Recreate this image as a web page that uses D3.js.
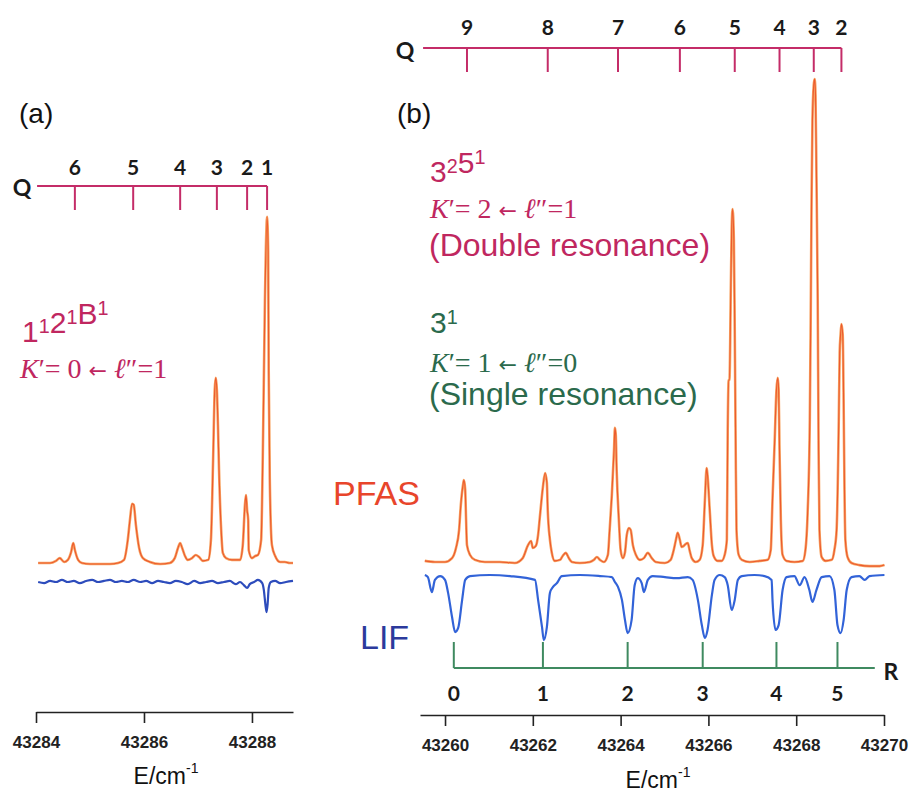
<!DOCTYPE html>
<html>
<head>
<meta charset="utf-8">
<script src="https://cdn.jsdelivr.net/npm/d3@7"></script>
<style>
  body { margin: 0; background: #fff; }
  svg { display: block; }
  .axis path, .axis line { stroke: #222; stroke-width: 1.6; }
</style>
</head>
<body>
<div id="chart"></div>
<script>
// ---- panel (a) : PFAS trace (energy in cm-1, intensity arb. units) ----
var pfasA_E = [43284.04, 43284.26, 43284.37, 43284.44, 43284.52, 43284.59, 43284.65, 43284.69, 43284.72, 43284.78,
  43284.85, 43285.00, 43285.19, 43285.37, 43285.52, 43285.63, 43285.70, 43285.74, 43285.78, 43285.81,
  43285.85, 43285.91, 43285.98, 43286.11, 43286.30, 43286.48, 43286.57, 43286.63, 43286.67, 43286.70,
  43286.76, 43286.81, 43286.89, 43286.96, 43287.02, 43287.09, 43287.19, 43287.24, 43287.28, 43287.31,
  43287.33, 43287.35, 43287.37, 43287.39, 43287.43, 43287.46, 43287.52, 43287.63, 43287.78, 43287.83,
  43287.87, 43287.89, 43287.91, 43287.93, 43287.94, 43288.00, 43288.06, 43288.11, 43288.17, 43288.20,
  43288.24, 43288.28, 43288.30, 43288.31, 43288.33, 43288.37, 43288.43, 43288.52, 43288.61, 43288.70, 43288.76];
var pfasA_I = [0, 0, 0.6, 1.4, 0.3, 0.9, 3.1, 5.7, 3.7, 0.9,
  0, -0.3, -0.3, -0.3, 0, 0.9, 6.6, 12.3, 16.9, 16.6,
  10.9, 4.3, 1.4, 0.3, -0.3, 0, 1.4, 4.3, 5.7, 4.6,
  2.0, 0.9, 1.4, 2.3, 1.7, 0.6, 0.9, 6.6, 29.4, 49.4,
  52.9, 49.4, 39.4, 26.6, 9.4, 2.9, 1.4, 0.9, 0.9, 5.1,
  16.6, 19.4, 15.1, 12.3, 3.7, 1.4, 2.0, 2.3, 6.6, 30.0,
  75.0, 98.9, 89.0, 55.0, 24.0, 5.1, 2.0, 0.3, 0.3, 0, 0];

// ---- panel (a) : LIF trace ----
var lifA_E = [43284.04, 43284.15, 43284.26, 43284.37, 43284.48, 43284.59, 43284.70, 43284.81, 43284.93, 43285.04,
  43285.15, 43285.26, 43285.37, 43285.48, 43285.59, 43285.70, 43285.81, 43285.93, 43286.04, 43286.15,
  43286.26, 43286.37, 43286.48, 43286.59, 43286.70, 43286.81, 43286.93, 43287.04, 43287.15, 43287.26,
  43287.37, 43287.48, 43287.59, 43287.70, 43287.78, 43287.85, 43287.91, 43287.96, 43288.04, 43288.11,
  43288.19, 43288.22, 43288.25, 43288.27, 43288.29, 43288.31, 43288.35, 43288.43, 43288.52, 43288.63, 43288.76];
var lifA_I = [0, -0.3, 0.3, 0, 0.6, 0, 0.3, -0.3, 0.3, 0.6,
  0, 0.3, 0.6, 0, 0.3, 0, 0.6, 0, 0.3, -0.3,
  0.3, 0, -0.3, 0.3, 0, -0.6, 0.3, -0.3, 0, 0.3,
  -0.3, 0, 0.3, -0.6, 0, -0.9, -1.7, -0.6, 0, 0.6,
  -0.3, -2.3, -6.6, -8.6, -6.3, -1.7, 0, 0.3, -0.3, 0, 0.3];

// ---- panel (b) : PFAS trace ----
var pfasB_E = [43259.54, 43259.77, 43260.00, 43260.16, 43260.25, 43260.32, 43260.36, 43260.41, 43260.43, 43260.46,
  43260.48, 43260.50, 43260.57, 43260.68, 43260.91, 43261.25, 43261.59, 43261.77, 43261.89, 43261.96,
  43262.00, 43262.07, 43262.12, 43262.16, 43262.23, 43262.28, 43262.32, 43262.34, 43262.39, 43262.43,
  43262.50, 43262.62, 43262.68, 43262.75, 43262.82, 43262.89, 43263.07, 43263.30, 43263.39, 43263.46,
  43263.53, 43263.62, 43263.71, 43263.75, 43263.80, 43263.85, 43263.87, 43263.89, 43263.91, 43263.96,
  43264.00, 43264.05, 43264.10, 43264.14, 43264.19, 43264.23, 43264.28, 43264.35, 43264.44, 43264.53,
  43264.62, 43264.71, 43264.80, 43265.01, 43265.14, 43265.21, 43265.26, 43265.30, 43265.35, 43265.39,
  43265.44, 43265.48, 43265.53, 43265.57, 43265.62, 43265.71, 43265.80, 43265.87, 43265.92, 43265.96,
  43265.98, 43266.03, 43266.08, 43266.12, 43266.21, 43266.30, 43266.37, 43266.42, 43266.44, 43266.46,
  43266.48, 43266.51, 43266.53, 43266.55, 43266.58, 43266.60, 43266.62, 43266.64, 43266.69, 43266.76,
  43266.94, 43267.17, 43267.35, 43267.42, 43267.46, 43267.51, 43267.55, 43267.58, 43267.60, 43267.62,
  43267.65, 43267.69, 43267.78, 43267.96, 43268.15, 43268.21, 43268.26, 43268.31, 43268.33, 43268.35,
  43268.37, 43268.40, 43268.42, 43268.44, 43268.46, 43268.49, 43268.51, 43268.53, 43268.58, 43268.67,
  43268.81, 43268.87, 43268.92, 43268.97, 43268.99, 43269.01, 43269.03, 43269.06, 43269.08, 43269.10,
  43269.12, 43269.17, 43269.26, 43269.44, 43269.67, 43269.90, 43270.01];
var pfasB_I = [0.6, 0.3, 0.3, 1.4, 4.3, 9.4, 16.6, 22.3, 23.7, 20.9,
  12.3, 5.1, 2.3, 0.9, 0.3, 0.3, 0, 1.4, 5.1, 6.3,
  4.3, 4.9, 8.0, 13.1, 21.7, 25.7, 22.9, 15.1, 6.6, 3.1,
  0.6, 0.9, 2.0, 2.9, 1.4, 0.3, 0, 0.3, 0.9, 1.7,
  0.9, 0.3, 2.3, 9.4, 19.4, 32.3, 38.6, 36.6, 26.6, 12.3,
  3.7, 1.4, 3.1, 8.0, 10.0, 9.4, 5.1, 2.3, 0.9, 1.4,
  2.9, 1.4, 0.3, 0, 0.9, 3.7, 6.6, 8.6, 6.6, 4.6,
  4.9, 5.4, 5.7, 3.7, 1.4, 0.3, 0.9, 5.1, 18.0, 27.1,
  25.1, 15.1, 5.1, 2.0, 0.6, 0.6, 2.3, 6.6, 38.0, 52.3,
  52.3, 78.0, 95.1, 101.1, 92.3, 66.6, 35.1, 9.4, 2.3, 0.9,
  0.3, 0.6, 0.9, 3.7, 18.0, 35.1, 49.4, 52.9, 49.4, 32.3,
  12.3, 2.3, 0.6, 0.3, 0.6, 3.7, 14.3, 40.9, 69.4, 103.7,
  126.6, 136.6, 138.3, 133.7, 112.3, 75.1, 32.3, 9.4, 1.7, 0.6,
  0.9, 3.7, 9.4, 40.9, 60.0, 65.1, 68.3, 65.1, 46.6, 20.9,
  6.6, 1.7, 0, -0.6, -0.9, -0.9, -0.6];

// ---- panel (b) : LIF trace ----
var lifB_E = [43259.54, 43259.61, 43259.70, 43259.77, 43259.89, 43260.00, 43260.07, 43260.16, 43260.23, 43260.30,
  43260.39, 43260.46, 43260.57, 43261.02, 43261.48, 43262.05, 43262.12, 43262.21, 43262.25, 43262.32,
  43262.39, 43262.46, 43262.55, 43262.66, 43263.07, 43263.53, 43263.80, 43263.87, 43263.94, 43264.03,
  43264.10, 43264.16, 43264.25, 43264.32, 43264.39, 43264.48, 43264.53, 43264.62, 43264.73, 43265.01,
  43265.28, 43265.53, 43265.64, 43265.76, 43265.85, 43265.92, 43265.98, 43266.08, 43266.14, 43266.26,
  43266.37, 43266.44, 43266.53, 43266.60, 43266.67, 43266.76, 43267.05, 43267.28, 43267.44, 43267.46,
  43267.53, 43267.60, 43267.69, 43267.78, 43267.96, 43268.08, 43268.19, 43268.30, 43268.37, 43268.46,
  43268.58, 43268.76, 43268.87, 43268.94, 43269.01, 43269.08, 43269.15, 43269.26, 43269.44, 43269.56,
  43269.67, 43270.01];
var lifB_I = [0, -0.6, -4.9, -1.4, -0.3, -1.4, -5.1, -12.0, -16.3, -15.1,
  -7.1, -1.4, -0.3, 0, -0.3, -1.4, -7.1, -14.9, -18.6, -14.9,
  -5.1, -3.4, -2.3, -0.3, 0, -0.3, -0.6, -2.0, -3.4, -7.1,
  -12.9, -16.6, -12.9, -2.9, -0.9, -2.3, -4.9, -1.4, -0.3, -0.6,
  -0.9, -0.6, -1.4, -7.1, -14.3, -18.0, -15.7, -5.7, -1.4, 0,
  -0.6, -2.9, -10.0, -7.1, -1.4, -0.3, 0, -0.3, -1.4, -7.1,
  -15.7, -14.3, -4.3, -0.6, -0.3, -2.9, -0.6, -4.3, -7.7, -4.3,
  -0.6, -0.3, -4.3, -14.3, -16.6, -12.9, -4.3, -0.6, -0.3, -1.4,
  -0.3, 0];

// ---- assignment ladders ----
var qLabelsA = ["6", "5", "4", "3", "2", "1"];
var qPosA = [43284.72, 43285.80, 43286.67, 43287.35, 43287.91, 43288.28];
var qStartA = 43284.02;

var qLabelsB = ["9", "8", "7", "6", "5", "4", "3", "2"];
var qPosB = [43260.50, 43262.34, 43263.94, 43265.35, 43266.60, 43267.62, 43268.40, 43269.03];
var qStartB = 43259.50;

var rLabelsB = ["0", "1", "2", "3", "4", "5"];
var rPosB = [43260.20, 43262.23, 43264.16, 43265.87, 43267.55, 43268.94];
var rEndB = 43269.79;

// ---- axis ticks ----
var ticksA = [43284, 43286, 43288];
var ticksB = [43260, 43262, 43264, 43266, 43268, 43270];

var svg = d3.select("#chart")
  .append("svg")
  .attr("width", 912)
  .attr("height", 792);

var xA = d3.scaleLinear().domain([43284, 43288.76]).range([36, 293]);
var xB = d3.scaleLinear().domain([43259.43, 43270]).range([420, 884]);
var yPfas = d3.scaleLinear().domain([0, 100]).range([563, 213]);
var yLifA = d3.scaleLinear().domain([0, -10]).range([582, 617]);
var yLifB = d3.scaleLinear().domain([0, -10]).range([575, 610]);

var sans = "'Liberation Sans', Arial, sans-serif";
var serif = "'Liberation Serif', 'Times New Roman', serif";
var calib = "Lato, 'Open Sans', sans-serif";
var crimson = "#c0275f";
var green = "#2b6a4c";
var ladderRed = "#c42c68";
var ladderGreen = "#3f8a60";

// ---- traces ----
function drawTrace(E, I, x, y, colors) {
  var pts = E.map(function (e, i) { return [e, I[i]]; });
  var line = d3.line()
    .x(function (d) { return x(d[0]); })
    .y(function (d) { return y(d[1]); })
    .curve(d3.curveMonotoneX);
  colors.forEach(function (c) {
    svg.append("path")
      .datum(pts)
      .attr("fill", "none")
      .attr("stroke", c[0])
      .attr("stroke-width", c[1])
      .attr("stroke-linejoin", "round")
      .attr("d", line);
  });
}

var pfasStyle = [["#f7a463", 2.6], ["#ec5a2e", 1.1]];
drawTrace(pfasA_E, pfasA_I, xA, yPfas, pfasStyle);
drawTrace(pfasB_E, pfasB_I, xB, yPfas, pfasStyle);
drawTrace(lifA_E, lifA_I, xA, yLifA, [["#2d4cbc", 2.2]]);
drawTrace(lifB_E, lifB_I, xB, yLifB, [["#3263d8", 2.2]]);

// ---- axes ----
function drawAxis(x, ticks, y) {
  var g = svg.append("g")
    .attr("class", "axis")
    .attr("transform", "translate(0," + y + ")")
    .call(d3.axisBottom(x).tickValues(ticks).tickSize(11).tickSizeOuter(0)
      .tickPadding(13).tickFormat(d3.format("d")));
  g.selectAll("text")
    .attr("font-family", null).attr("font-size", null)
    .style("font-family", sans)
    .style("font-weight", "bold")
    .style("font-size", "17px")
    .style("fill", "#222");
}
drawAxis(xA, ticksA, 712);
drawAxis(xB, ticksB, 715);

function unitLabel(cx, y) {
  var t = svg.append("text")
    .attr("x", cx).attr("y", y)
    .attr("text-anchor", "middle")
    .style("font-family", sans).style("font-size", "23px").style("fill", "#111");
  t.append("tspan").text("E/cm");
  t.append("tspan").attr("dy", -11).style("font-size", "14px").text("-1");
}
unitLabel(166, 784);
unitLabel(658, 788);

// ---- ladders ----
function drawLadder(x, labels, pos, start, lineY, tickY, labelY, color, endX) {
  var g = svg.append("g");
  g.append("line")
    .attr("x1", x(start)).attr("x2", endX === undefined ? x(pos[pos.length - 1]) : x(endX))
    .attr("y1", lineY).attr("y2", lineY)
    .attr("stroke", color).attr("stroke-width", 2);
  g.selectAll("line.tk")
    .data(pos)
    .enter()
    .append("line")
    .attr("class", "tk")
    .attr("x1", function (d) { return x(d); })
    .attr("x2", function (d) { return x(d); })
    .attr("y1", lineY)
    .attr("y2", tickY)
    .attr("stroke", color).attr("stroke-width", 2);
  g.selectAll("text")
    .data(labels)
    .enter()
    .append("text")
    .attr("x", function (d, i) { return x(pos[i]); })
    .attr("y", labelY)
    .attr("text-anchor", "middle")
    .attr("dominant-baseline", "central")
    .style("font-family", calib).style("font-weight", "bold")
    .style("font-size", "21px").style("fill", "#1a1a1a")
    .text(function (d) { return d; });
}
drawLadder(xA, qLabelsA, qPosA, qStartA, 186, 210, 166, ladderRed);
drawLadder(xB, qLabelsB, qPosB, qStartB, 48, 72, 26, ladderRed);
drawLadder(xB, rLabelsB, rPosB, rPosB[0], 668, 642, 692, ladderGreen, rEndB);

function bigLetter(txt, x, y) {
  svg.append("text")
    .attr("x", x).attr("y", y)
    .attr("text-anchor", "middle")
    .attr("dominant-baseline", "central")
    .style("font-family", calib).style("font-weight", "bold")
    .style("font-size", "23px").style("fill", "#1a1a1a")
    .text(txt);
}
bigLetter("Q", 22, 187);
bigLetter("Q", 405, 50);
bigLetter("R", 891, 671);

// ---- panel tags ----
[["(a)", 19, 123], ["(b)", 397, 123]].forEach(function (p) {
  svg.append("text")
    .attr("x", p[1]).attr("y", p[2])
    .style("font-family", sans).style("font-size", "28px").style("fill", "#111")
    .text(p[0]);
});

// ---- annotations ----
function supText(x, y, parts, color, size) {
  var t = svg.append("text").attr("x", x).attr("y", y)
    .style("font-family", sans).style("font-size", size + "px").style("fill", color);
  parts.forEach(function (p) {
    t.append("tspan").attr("dy", 0).text(p[0]);
    if (p[1]) {
      t.append("tspan").attr("dy", -size * 0.3).style("font-size", (size * 0.66) + "px").text(p[1]);
      t.append("tspan").attr("dy", size * 0.3).text("");
    }
  });
}

function kText(x, y, k, l, color) {
  var t = svg.append("text").attr("x", x).attr("y", y)
    .style("font-family", serif).style("font-size", "28px").style("fill", color);
  t.append("tspan").style("font-style", "italic").text("K");
  t.append("tspan").text("\u2032= " + k + " ");
  t.append("tspan").style("font-family", "'DejaVu Sans', sans-serif").style("font-size", "22px").text("\u2190");
  t.append("tspan").text(" ");
  t.append("tspan").style("font-style", "italic").text("\u2113");
  t.append("tspan").text("\u2033=" + l);
}

supText(22, 342, [["1", "1"], ["2", "1"], ["B", "1"]], crimson, 30);
kText(20, 378, "0", "1", crimson);

supText(430, 182, [["3", "2"], ["5", "1"]], crimson, 30);
kText(430, 218, "2", "1", crimson);
svg.append("text").attr("x", 429).attr("y", 256)
  .style("font-family", sans).style("font-size", "32px").style("fill", crimson)
  .text("(Double resonance)");

supText(430, 333, [["3", "1"]], green, 30);
kText(430, 372, "1", "0", green);
svg.append("text").attr("x", 429).attr("y", 405)
  .style("font-family", sans).style("font-size", "32px").style("fill", green)
  .text("(Single resonance)");

svg.append("text").attr("x", 333).attr("y", 505)
  .style("font-family", sans).style("font-size", "34px").style("fill", "#e8452b")
  .text("PFAS");
svg.append("text").attr("x", 360).attr("y", 649)
  .style("font-family", sans).style("font-size", "34px").style("fill", "#2c3a9c")
  .text("LIF");
</script>
</body>
</html>
